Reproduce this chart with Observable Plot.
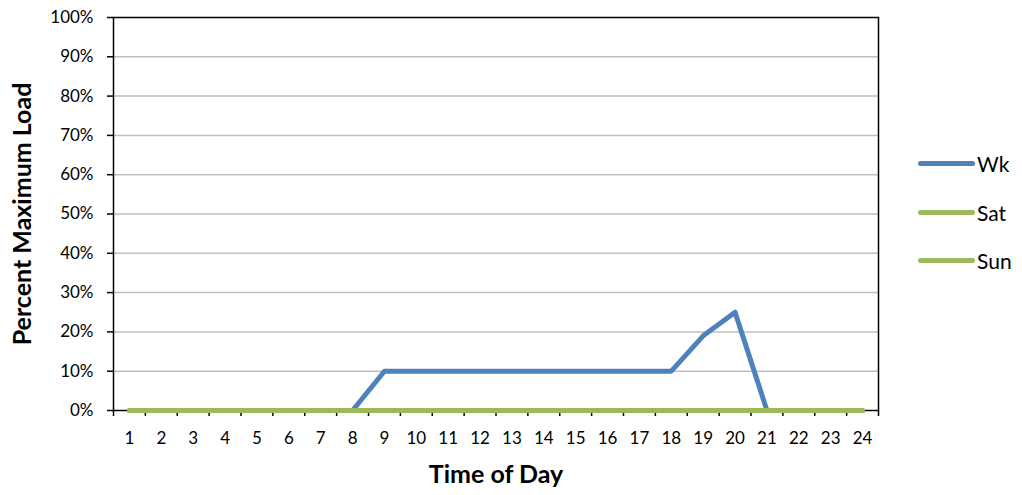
<!DOCTYPE html>
<html><head><meta charset="utf-8">
<script src="https://cdn.jsdelivr.net/npm/d3@7"></script>
<script src="https://cdn.jsdelivr.net/npm/@observablehq/plot@0.6"></script>
<style>
body{margin:0;background:#fff;}
#wrap{position:relative;width:1022px;height:495px;font-family:Lato,"Open Sans",sans-serif;}
#legend{position:absolute;left:0;top:0;}
.item{position:absolute;left:918px;display:flex;align-items:center;font-size:21px;color:#000;height:26px;}
.sw{width:57px;height:5px;border-radius:3px;margin-right:2px;}
#chart svg text{font-size:17px !important;}
#chart svg g[aria-label="y-axis label"] text,
#chart svg g[aria-label="x-axis label"] text{font-size:25px !important;font-weight:bold;}
</style>
</head><body>
<div id="wrap"><div id="chart"></div><div id="legend"></div></div>
<script>
const hours = [1,2,3,4,5,6,7,8,9,10,11,12,13,14,15,16,17,18,19,20,21,22,23,24];
const wk  = [0,0,0,0,0,0,0,0,10,10,10,10,10,10,10,10,10,10,19,25,0,0,0,0];
const sat = [0,0,0,0,0,0,0,0,0,0,0,0,0,0,0,0,0,0,0,0,0,0,0,0];
const sun = [0,0,0,0,0,0,0,0,0,0,0,0,0,0,0,0,0,0,0,0,0,0,0,0];
const seriesNames = ["Wk","Sat","Sun"];
const seriesColors = ["#4F81BD","#9BBB59","#9BBB59"];
const yTicks = [0,0.1,0.2,0.3,0.4,0.5,0.6,0.7,0.8,0.9,1];

const rows = [];
[wk, sat, sun].forEach((arr, s) => arr.forEach((v, i) => rows.push({series: seriesNames[s], hour: hours[i], value: v / 100})));
const boundaries = hours.map(h => h - 0.5).concat([hours[hours.length - 1] + 0.5]);

const font = "Lato, 'Open Sans', sans-serif";
const chart = Plot.plot({
  width: 1022,
  height: 495,
  marginLeft: 113,
  marginRight: 144,
  marginTop: 17,
  marginBottom: 85,
  style: {fontFamily: font, fontSize: "17px", color: "#000", background: "#fff"},
  x: {type: "linear", domain: [0.5, 24.5]},
  y: {domain: [0, 1]},
  marks: [
    Plot.gridY(yTicks.slice(1, -1), {stroke: "#bfbfbf", strokeOpacity: 1, strokeWidth: 1.5}),
    Plot.frame({stroke: "#000", strokeWidth: 1.5}),
    Plot.axisY(yTicks, {tickSize: 6, tickPadding: 14, tickFormat: d3.format(".0%"), stroke: "#000", strokeWidth: 1.5,
      label: "Percent Maximum Load", labelAnchor: "center", labelArrow: "none", labelOffset: 100}),
    Plot.axisX(boundaries, {tickSize: 6, tickFormat: () => "", stroke: "#000", strokeWidth: 1.5, label: null}),
    Plot.axisX(hours, {tickSize: 0, tickPadding: 21, tickFormat: d => String(d),
      label: "Time of Day", labelAnchor: "center", labelArrow: "none", labelOffset: 72}),
    Plot.lineY(rows, {x: "hour", y: "value", z: "series", stroke: "series", strokeWidth: 5,
      strokeLinecap: "round", strokeLinejoin: "round"})
  ],
  color: {domain: seriesNames, range: seriesColors}
});
document.getElementById("chart").append(chart);

const legend = document.getElementById("legend");
const legendTops = [150, 199, 247];
seriesNames.forEach((name, i) => {
  const it = document.createElement("div");
  it.className = "item";
  it.style.top = legendTops[i] + "px";
  const sw = document.createElement("div");
  sw.className = "sw";
  sw.style.background = seriesColors[i];
  it.append(sw, document.createTextNode(name));
  legend.append(it);
});
</script>
</body></html>
